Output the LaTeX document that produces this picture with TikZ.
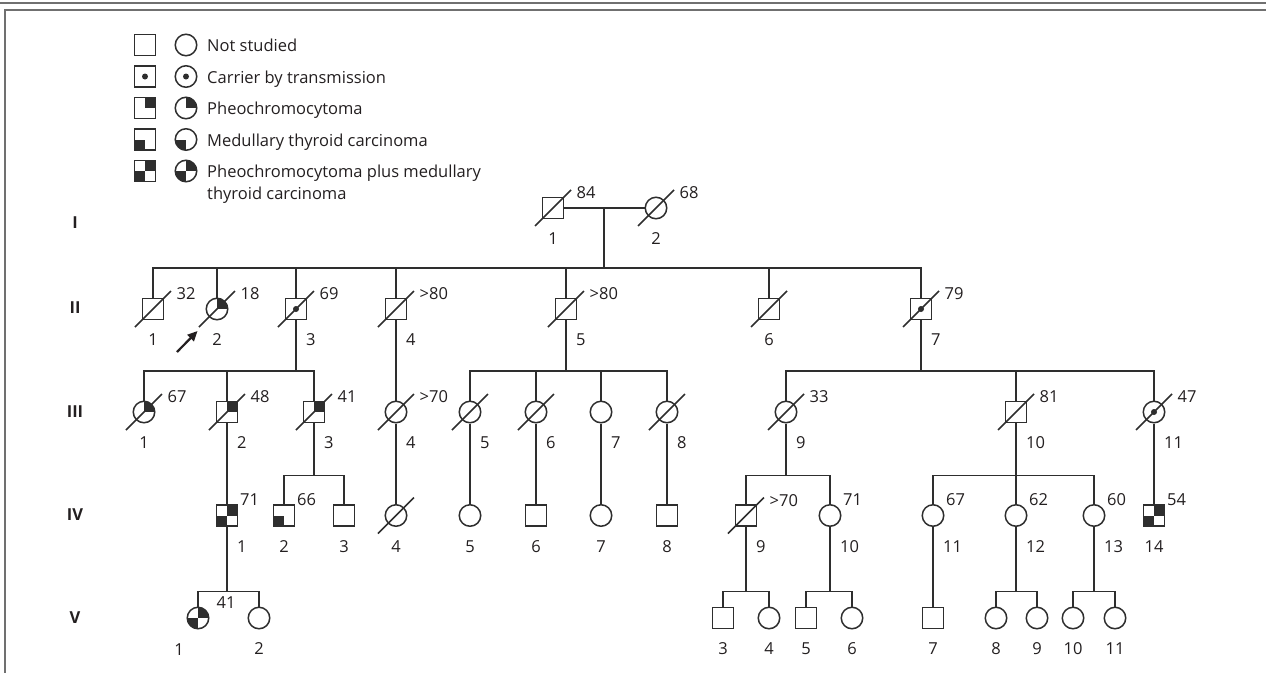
\documentclass[tikz,border=0pt]{standalone}
\usepackage{fontspec}
\setmainfont{Open Sans}
\usetikzlibrary{arrows.meta,calc}
\definecolor{txt}{HTML}{231F20}
\definecolor{ln}{HTML}{2E2E2E}
\definecolor{frm}{HTML}{707070}
\newcommand{\pedfam}[4]{\draw[lw] (#1.south) -- (#2); \draw[lw] (#3.north) -- (#3 |- #2) -- (#4 |- #2) -- (#4.north);}
\begin{document}
\begin{tikzpicture}[x=1pt,y=-1pt,
  every node/.style={font=\fontsize{16.5}{22}\selectfont, text=txt, inner sep=0pt},
  lw/.style={line width=1.5pt, draw=ln},
  frame/.style={line width=2pt, draw=frm},
  sq/.style={rectangle, draw=ln, line width=1.5pt, minimum size=21pt, inner sep=0pt, fill=white},
  ci/.style={circle, draw=ln, line width=1.5pt, minimum size=21.5pt, inner sep=0pt, fill=white},
  pheo/.style={path picture={\fill[ln] (path picture bounding box.center) rectangle (path picture bounding box.north east);}},
  mtc/.style={path picture={\fill[ln] (path picture bounding box.center) rectangle (path picture bounding box.south west);}},
  both/.style={path picture={\fill[ln] (path picture bounding box.center) rectangle (path picture bounding box.north east);
                             \fill[ln] (path picture bounding box.center) rectangle (path picture bounding box.south west);}},
  carrier/.style={path picture={\fill[ln] (path picture bounding box.center) circle[radius=3pt];}},
  age/.style={anchor=west},
  num/.style={anchor=center},
  numr/.style={anchor=west},
  gen/.style={font=\fontsize{16.5}{22}\selectfont\bfseries},
  legtext/.style={anchor=base west, align=left}
]
\useasboundingbox (0,0) rectangle (1266,673);
% frame
\draw[frame] (0,2.5) -- (1266,2.5);
\draw[frame] (4,10) -- (1266,10);
\draw[frame] (5,9) -- (5,673);

% legend
\node[sq] (Ls1) at (145,45) {};
\node[ci] (Lc1) at (186,45) {};
\node[legtext] (Lt1) at (207,51.5) {Not studied};
\node[sq,carrier] (Ls2) at (145,76.5) {};
\node[ci,carrier] (Lc2) at (186,76.5) {};
\node[legtext] (Lt2) at (207,83) {Carrier by transmission};
\node[sq,pheo] (Ls3) at (145,108) {};
\node[ci,pheo] (Lc3) at (186,108) {};
\node[legtext] (Lt3) at (207,114.5) {Pheochromocytoma};
\node[sq,mtc] (Ls4) at (145,139.5) {};
\node[ci,mtc] (Lc4) at (186,139.5) {};
\node[legtext] (Lt4) at (207,146) {Medullary thyroid carcinoma};
\node[sq,both] (Ls5) at (145,171) {};
\node[ci,both] (Lc5) at (186,171) {};
\node[legtext] (Lt5) at (207,199.5) {Pheochromocytoma plus medullary\\thyroid carcinoma};

% generation labels
\node[gen] (gI) at (75,223) {I};
\node[gen] (gII) at (75,308) {II};
\node[gen] (gIII) at (75,412) {III};
\node[gen] (gIV) at (75,515) {IV};
\node[gen] (gV) at (75,618) {V};

% generation I
\node[sq] (I1) at (553,208) {};
\node[ci] (I2) at (656,208) {};
% generation II
\node[sq] (II1) at (153,309) {};
\node[ci,pheo] (II2) at (217,309) {};
\node[sq,carrier] (II3) at (296,309) {};
\node[sq] (II4) at (396,309) {};
\node[sq] (II5) at (566,309) {};
\node[sq] (II6) at (769,309) {};
\node[sq,carrier] (II7) at (921,309) {};
% generation III
\node[ci,pheo] (III1) at (144,412) {};
\node[sq,pheo] (III2) at (227,412) {};
\node[sq,pheo] (III3) at (314,412) {};
\node[ci] (III4) at (396,412) {};
\node[ci] (III5) at (470,412) {};
\node[ci] (III6) at (536,412) {};
\node[ci] (III7) at (601,412) {};
\node[ci] (III8) at (667,412) {};
\node[ci] (III9) at (786,412) {};
\node[sq] (III10) at (1016,412) {};
\node[ci,carrier] (III11) at (1154,412) {};
% generation IV
\node[sq,both] (IV1) at (227,515.5) {};
\node[sq,mtc] (IV2) at (284,515.5) {};
\node[sq] (IV3) at (344,515.5) {};
\node[ci] (IV4) at (396,515.5) {};
\node[ci] (IV5) at (470,515.5) {};
\node[sq] (IV6) at (536,515.5) {};
\node[ci] (IV7) at (601,515.5) {};
\node[sq] (IV8) at (667,515.5) {};
\node[sq] (IV9) at (746,515.5) {};
\node[ci] (IV10) at (830,515.5) {};
\node[ci] (IV11) at (933,515.5) {};
\node[ci] (IV12) at (1016,515.5) {};
\node[ci] (IV13) at (1094,515.5) {};
\node[sq,both] (IV14) at (1154,515.5) {};
% generation V
\node[ci,both] (V1) at (198,618) {};
\node[ci] (V2) at (259,618) {};
\node[sq] (V3) at (723,618) {};
\node[ci] (V4) at (769,618) {};
\node[sq] (V5) at (806,618) {};
\node[ci] (V6) at (852,618) {};
\node[sq] (V7) at (933,618) {};
\node[ci] (V8) at (996,618) {};
\node[ci] (V9) at (1037,618) {};
\node[ci] (V10) at (1073,618) {};
\node[ci] (V11) at (1115,618) {};

% connectors
\draw[lw] (I1.east) -- (I2.west);
\coordinate (mI) at (604,208);
\coordinate (sII) at (604,268);
\draw[lw] (mI) -- (sII);
\draw[lw] (II1.north) -- (II1 |- sII) -- (II7 |- sII) -- (II7.north);
\foreach \n in {II2,II3,II4,II5,II6} \draw[lw] (\n.north) -- (\n |- sII);

\coordinate (sA) at (296,371);
\pedfam{II3}{sA}{III1}{III3}
\draw[lw] (III2.north) -- (III2 |- sA);
\draw[lw] (II4.south) -- (III4.north);
\coordinate (sB) at (566,371);
\pedfam{II5}{sB}{III5}{III8}
\foreach \n in {III6,III7} \draw[lw] (\n.north) -- (\n |- sB);
\coordinate (sC) at (921,371);
\pedfam{II7}{sC}{III9}{III11}
\draw[lw] (III10.north) -- (III10 |- sC);

\draw[lw] (III2.south) -- (IV1.north);
\coordinate (sD) at (314,475.7);
\pedfam{III3}{sD}{IV2}{IV3}
\draw[lw] (III4.south) -- (IV4.north);
\draw[lw] (III5.south) -- (IV5.north);
\draw[lw] (III6.south) -- (IV6.north);
\draw[lw] (III7.south) -- (IV7.north);
\draw[lw] (III8.south) -- (IV8.north);
\coordinate (sE) at (786,475.7);
\pedfam{III9}{sE}{IV9}{IV10}
\coordinate (sF) at (1016,475.7);
\pedfam{III10}{sF}{IV11}{IV13}
\draw[lw] (IV12.north) -- (IV12 |- sF);
\draw[lw] (III11.south) -- (IV14.north);

\coordinate (sG) at (227,591.7);
\pedfam{IV1}{sG}{V1}{V2}
\coordinate (sH) at (746,591.7);
\pedfam{IV9}{sH}{V3}{V4}
\coordinate (sI) at (830,591.7);
\pedfam{IV10}{sI}{V5}{V6}
\draw[lw] (IV11.south) -- (V7.north);
\coordinate (sJ) at (1016,591.7);
\pedfam{IV12}{sJ}{V8}{V9}
\coordinate (sK) at (1094,591.7);
\pedfam{IV13}{sK}{V10}{V11}

% deceased slashes
\foreach \n in {I1,I2,II1,II2,II3,II4,II5,II6,II7,III1,III2,III3,III4,III5,III6,III8,III9,III10,III11,IV4,IV9}
  \draw[lw] (\n.center) +(-18,18) -- +(18,-18);

% proband arrow
\coordinate (arT) at (177,352);
\coordinate (arH) at (197.5,331);
\draw[line width=2.2pt, draw=txt, -{Triangle[length=10pt,width=9pt]}] (arT) -- (arH);

% ages
\foreach \n/\t in {I1/84,I2/68,II1/32,II2/18,II3/69,II4/{>80},II5/{>80},II7/79,
  III1/67,III2/48,III3/41,III4/{>70},III9/33,III10/81,III11/47,IV9/{>70}}
  \node[age] (a\n) at ($(\n.center)+(23.5,-15)$) {\t};
\foreach \n/\t in {IV1/71,IV2/66,IV10/71,IV11/67,IV12/62,IV13/60,IV14/54}
  \node[age] (a\n) at ($(\n.center)+(13,-15.5)$) {\t};
\node[age] (aV1) at ($(V1.center)+(18.5,-15)$) {41};

% numbers (centred)
\foreach \n/\t in {I1/1,I2/2,II1/1,II2/2,II6/6,III1/1,
  IV2/2,IV3/3,IV4/4,IV5/5,IV6/6,IV7/7,IV8/8,IV14/14,
  V2/2,V3/3,V4/4,V5/5,V6/6,V7/7,V8/8,V9/9,V10/10,V11/11}
  \node[num] (n\n) at ($(\n.center)+(0,31)$) {\t};
\node[num] (nV1) at ($(V1.center)+(-19,32)$) {1};
% numbers (beside a line)
\foreach \n/\t in {II3/3,II4/4,II5/5,II7/7,III2/2,III3/3,III4/4,III5/5,III6/6,III7/7,III8/8,
  III9/9,III10/10,III11/11,IV1/1,IV9/9,IV10/10,IV11/11,IV12/12,IV13/13}
  \node[numr] (n\n) at ($(\n.center)+(10,31)$) {\t};
\end{tikzpicture}
\end{document}
